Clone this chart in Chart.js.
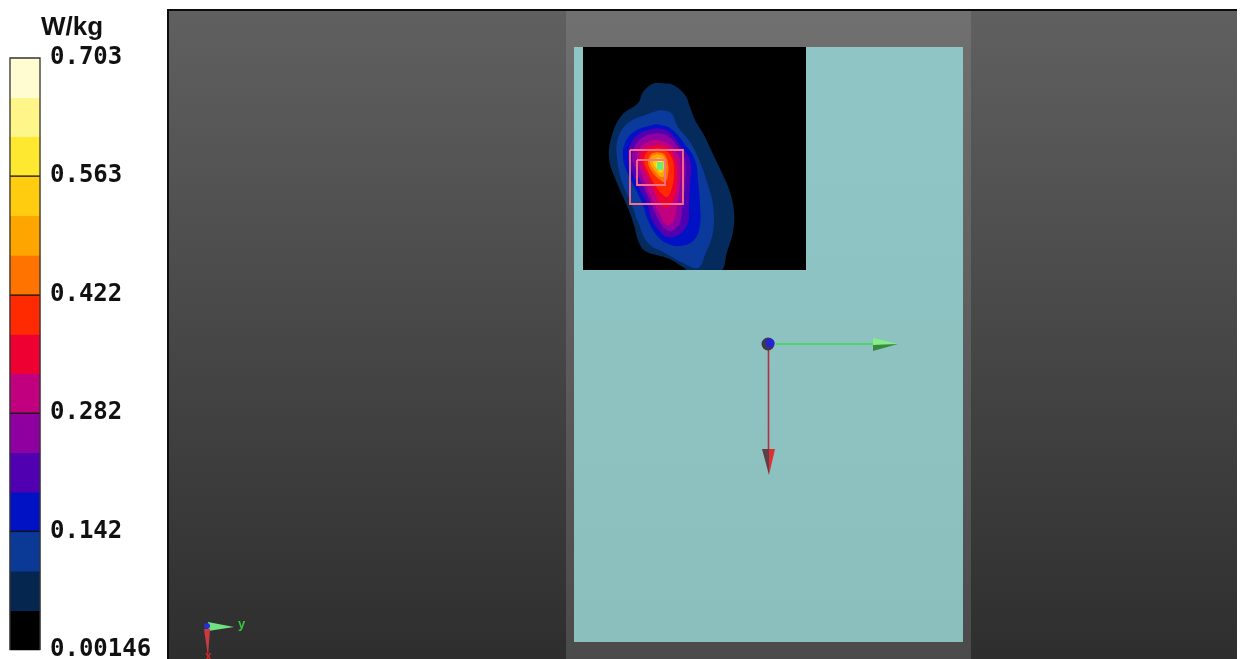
<!DOCTYPE html>
<html><head><meta charset="utf-8">
<style>html,body{margin:0;padding:0;background:#fff}canvas{display:block}</style>
<script src="https://cdn.jsdelivr.net/npm/chart.js@4"></script></head>
<body><canvas id="c" width="1240" height="659"></canvas>
<script>
const unitLabel = 'W/kg';
const tickValues = [0.00146, 0.142, 0.282, 0.422, 0.563, 0.703];
const tickLabels = ['0.00146', '0.142', '0.282', '0.422', '0.563', '0.703'];
const levelEdges = [0.00146,0.0482,0.095,0.142,0.1886,0.2353,0.282,0.3288,0.3755,0.422,0.469,0.516,0.563,0.61,0.656,0.703];
const levelColors = ['#000000','#04264f','#0a3a95','#0012c4','#5000b0','#8f00a0','#c0007f','#ee0033','#ff2a00','#ff7300','#ffa500','#ffcc10','#ffe930','#fff68a','#fffcd2'];

const contour1 = [[660,83],[673,85],[685,95],[690,107],[695,120],[704,135],[712,152],[722,173],[730,192],[734,212],[733,232],[727,252],[720,272],[690,272],[683,267],[667,258],[647,252],[640,245],[633,222],[628,208],[615,178],[609,158],[612,135],[622,115],[638,103],[643,92],[652,84],[660,83]];
const contour2 = [[660,110],[671,113],[678,127],[690,142],[700,162],[707,182],[713,205],[713,232],[705,255],[698,268],[683,263],[665,253],[648,243],[638,222],[632,205],[622,182],[617,158],[618,138],[628,123],[645,115],[660,110]];
const contour3 = [[656,124],[670,128],[684,143],[695,160],[698,180],[700,205],[700,225],[694,240],[680,246],[666,243],[655,233],[647,218],[643,205],[635,188],[627,172],[623,158],[625,143],[635,131],[656,124]];
const contour4 = [[656,128],[668,131],[680,145],[690,160],[690,185],[689,205],[688,222],[680,234],[667,237],[657,228],[650,215],[648,205],[640,190],[632,172],[628,158],[630,145],[640,133],[656,128]];
const contour5 = [[657,133],[668,136],[678,147],[685,160],[685,185],[682,205],[680,222],[672,231],[664,228],[656,215],[652,205],[645,190],[637,172],[632,158],[635,146],[645,136],[657,133]];
const contour6 = [[657,140],[667,143],[675,150],[680,160],[680,185],[677,205],[674,220],[667,225],[660,215],[655,205],[648,190],[641,172],[637,158],[640,148],[648,142],[657,140]];
const contour7 = [[657,145],[666,147],[673,155],[677,170],[676,190],[672,203],[666,208],[660,203],[654,190],[647,175],[640,158],[645,149],[657,145]];
const contour8 = [[657,148],[665,150],[672,158],[674,172],[672,188],[667,197],[662,194],[655,185],[648,172],[644,160],[648,151],[657,148]];
const contour9 = [[657,152],[664,154],[668,163],[668,175],[665,182],[660,180],[653,173],[648,163],[651,154],[657,152]];
const contour10 = [[657,154],[663,156],[666,164],[665,175],[661,177],[655,171],[650,163],[652,156],[657,154]];
const contour11 = [[658,157],[663,160],[664,168],[661,173],[656,168],[653,162],[658,157]];
const contour12 = [[658,160],[662,161],[663,168],[659,170],[656,165],[658,160]];
const contourPeak = [[657,162],[663,162],[663,170],[657,170],[657,162]];
const contours = [contour1,contour2,contour3,contour4,contour5,contour6,contour7,contour8,contour9,contour10,contour11,contour12];
const contourColors = ['#052a5c','#0a3a9c','#0012c4','#5000b0','#8f00a0','#c0007f','#ee0033','#ff2a00','#ff7300','#ffa500','#ffcc10','#ffe930'];

const panelLeft = [[168,10],[566,10],[566,659],[168,659],[168,10]];
const panelMiddle = [[566,10],[971,10],[971,659],[566,659],[566,10]];
const panelRight = [[971,10],[1237,10],[1237,659],[971,659],[971,10]];
const phantom = [[574,47],[963,47],[963,642],[574,642],[574,47]];
const phantomLower = [[574,270],[963,270],[963,642],[574,642],[574,270]];
const scanArea = [[583,47],[806,47],[806,270],[583,270],[583,47]];
const frameLine = [[168,659],[168,10],[1237,10]];
const outerCube = [[630,150],[683,150],[683,204],[630,204],[630,150]];
const innerCube = [[637,160],[665,160],[665,185],[637,185],[637,160]];

const axisY = [[768.5,350],[768.5,450]];
const axisYConeDark = [[762,449],[769,449],[769,475],[762,449]];
const axisYConeLight = [[769,449],[775,449],[769,475],[769,449]];
const axisX = [[776,344],[873,344]];
const axisXConeLight = [[873,338],[898,344],[873,345],[873,338]];
const axisXConeDark = [[873,345],[898,344],[873,351],[873,345]];
const originDark = [[768,344]];
const originBlue = [[770,343]];
const triadGreen = [[208,622],[234,627],[208,631],[208,622]];
const triadRed = [[204,629],[210,629],[208,657],[204,629]];
const triadBlue = [[207,626]];

function pts(a){return a.map(p=>({x:p[0],y:p[1]}));}
function poly(a,color,opt){return Object.assign({type:'scatter',data:pts(a),showLine:true,fill:'shape',backgroundColor:color,borderColor:'transparent',borderWidth:0,pointRadius:0,tension:0,xAxisID:'x',yAxisID:'y'},opt||{});}
function line(a,color,w){return {type:'scatter',data:pts(a),showLine:true,fill:false,borderColor:color,backgroundColor:'transparent',borderWidth:w,pointRadius:0,tension:0,xAxisID:'x',yAxisID:'y'};}
function dot(a,color,r){return {type:'scatter',data:pts(a),showLine:false,backgroundColor:color,borderWidth:0,pointRadius:r,xAxisID:'x',yAxisID:'y'};}
const ctx=document.getElementById('c').getContext('2d');
function vgrad(top,bottom){const g=ctx.createLinearGradient(0,10,0,659);g.addColorStop(0,top);g.addColorStop(1,bottom);return g;}

const ds=[];
ds.push(poly(panelLeft,vgrad('#606060','#2e2e2e')));
ds.push(poly(panelMiddle,vgrad('#707070','#4a4a4a')));
ds.push(poly(panelRight,vgrad('#606060','#2e2e2e')));
ds.push(line(frameLine,'#0c0c0c',2));
ds.push(poly(phantom,vgrad('#90c6c6','#8bbfbe')));
ds.push(poly(scanArea,'#000000'));
contours.forEach((c,i)=>ds.push(poly(c,contourColors[i],{tension:0.4})));
ds.push(poly(contourPeak,'#66f07a'));
ds.push(poly(phantomLower,vgrad('#90c6c6','#8bbfbe')));
ds.push(line(outerCube,'#fb7088',1.8));
ds.push(line(innerCube,'#f8708c',1.8));
ds.push(line(axisY,'#b03048',1.6));
ds.push(poly(axisYConeDark,'#5c4044'));
ds.push(poly(axisYConeLight,'#dc3034'));
ds.push(line(axisX,'#4fd468',1.8));
ds.push(poly(axisXConeLight,'#86ee86'));
ds.push(poly(axisXConeDark,'#3a8a3c'));
ds.push(dot(originDark,'#3c3c48',6.5));
ds.push(dot(originBlue,'#2424d4',4.5));
ds.push(poly(triadGreen,'#70e080'));
ds.push(poly(triadRed,'#c83c40'));
ds.push(dot(triadBlue,'#2430d0',3));
ds.push({type:'bar',data:levelColors.map((c,i)=>({x:25,y:[levelEdges[i],levelEdges[i+1]]})),backgroundColor:levelColors,borderWidth:0,barThickness:30,xAxisID:'x',yAxisID:'val'});
function valLine(a,color,w){return {type:'scatter',data:a.map(p=>({x:p[0],y:p[1]})),showLine:true,fill:false,borderColor:color,backgroundColor:'transparent',borderWidth:w,pointRadius:0,tension:0,xAxisID:'x',yAxisID:'val'};}
tickValues.slice(1,5).forEach(v=>ds.push(valLine([[10,v],[40,v]],'#111111',1.3)));
ds.push(valLine([[10,0.00146],[10,0.703],[40,0.703],[40,0.00146]],'#333333',1.3));
ds.forEach((d,i)=>d.order=-i);

const captions={id:'captions',afterDraw(ch){
  const c=ch.ctx,x=ch.scales.x,y=ch.scales.y;
  c.save();c.textBaseline='alphabetic';c.textAlign='left';
  c.fillStyle='#111111';c.font='bold 26px "Liberation Sans"';
  c.fillText(unitLabel,x.getPixelForValue(41),y.getPixelForValue(35));
  c.fillStyle='#36c83c';c.font='bold 13px "Liberation Sans"';
  c.fillText('y',x.getPixelForValue(238),y.getPixelForValue(628));
  c.fillStyle='#d02828';c.font='bold 12px "Liberation Sans"';
  c.fillText('x',x.getPixelForValue(205),y.getPixelForValue(660));
  c.fillStyle='#111111';c.font='bold 24px "DejaVu Sans Mono"';c.textBaseline='middle';
  const v=ch.scales.val;
  tickValues.forEach((t,i)=>c.fillText(tickLabels[i],x.getPixelForValue(50),v.getPixelForValue(t)));
  c.restore();
}};

const chart=new Chart(ctx,{
  data:{datasets:ds},
  plugins:[captions],
  options:{
    responsive:false,animation:false,devicePixelRatio:1,
    layout:{padding:0,autoPadding:false},
    plugins:{legend:{display:false},tooltip:{enabled:false},title:{display:false}},
    scales:{
      x:{type:'linear',min:0,max:1240,display:false,offset:false},
      y:{type:'linear',min:0,max:659,reverse:true,display:false},
      val:{type:'linear',min:-0.00921,max:0.7717,display:false}
    }
  }
});
</script></body></html>
